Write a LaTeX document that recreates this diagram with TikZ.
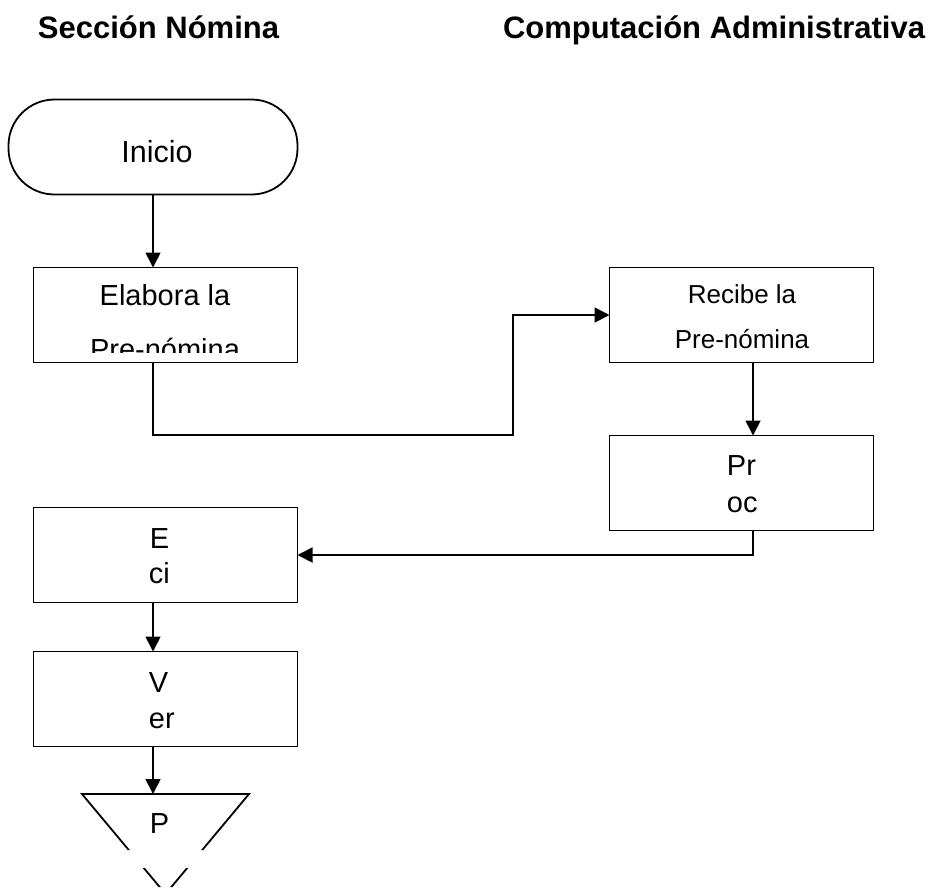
\documentclass[tikz,border=0pt]{standalone}
\usepackage{fontspec}
\setmainfont{Liberation Sans}
\usetikzlibrary{arrows.meta}
\begin{document}
\begin{tikzpicture}[x=1pt,y=-1pt,
  line width=1.8pt,
  procbox/.style={draw, rectangle, minimum width=264pt, minimum height=95pt, inner sep=0pt, outer sep=0pt},
  termbox/.style={draw, rectangle, rounded corners=46pt, minimum width=289pt, minimum height=95pt, inner sep=0pt, outer sep=0pt},
  flow/.style={-{Triangle[length=15pt,width=15pt]}},
  headtxt/.style={font=\fontsize{31}{37}\selectfont\bfseries, inner sep=0pt},
  txt/.style={font=\fontsize{29}{35}\selectfont, inner sep=0pt},
  txtsmall/.style={font=\fontsize{26}{31}\selectfont, inner sep=0pt}]
\useasboundingbox (0,0) rectangle (928,887);

% column headings
\node[headtxt, anchor=base west] (hdrA) at (37,38) {Sección Nómina};
\node[headtxt, anchor=base east] (hdrB) at (926,38) {Computación Administrativa};

% shapes
\node[termbox] (inicio) at (153,147) {};
\node[procbox] (elabora) at (165.5,315) {};
\node[procbox] (recibe) at (741.5,315) {};
\node[procbox] (proc) at (741.5,483) {};
\node[procbox] (emite) at (165.5,555) {};
\node[procbox] (verifica) at (165.5,699) {};

% texts
\node[txt, font=\fontsize{30.5}{36}\selectfont, anchor=base] (inicioT) at (157,162) {Inicio};
\node[txt, anchor=base] (elaboraA) at (165,305) {Elabora la};
\begin{scope}
  \clip (35,270) rectangle (296,352);
  \node[txt, anchor=base] (elaboraB) at (165,359) {Pre-nómina};
\end{scope}
\node[txtsmall, anchor=base] (recibeA) at (742,303) {Recibe la};
\node[txtsmall, anchor=base] (recibeB) at (742,348) {Pre-nómina};
\node[txt, anchor=base west] (procA) at (726,475) {Pr};
\node[txt, anchor=base west] (procB) at (726,512) {oc};
\node[txt, anchor=base west] (emiteA) at (149,548) {E};
\node[txt, anchor=base west] (emiteB) at (148,583) {ci};
\node[txt, anchor=base west] (verA) at (148,692) {V};
\node[txt, anchor=base west] (verB) at (148,728) {er};
\node[txt, anchor=base west] (mergeT) at (149,833) {P};

% connectors
\coordinate (jog) at (513,435);
\coordinate (mtop) at (165.5,794);
\draw[flow] (inicio.south) -- (inicio.south |- elabora.north);
\draw[flow] (inicio.south |- elabora.south) |- (jog) |- (recibe.west);
\draw[flow] ([xshift=11.5pt]recibe.south) -- ([xshift=11.5pt]proc.north);
\draw[flow] ([xshift=11.5pt]proc.south) |- (emite.east);
\draw[flow] (inicio.south |- emite.south) -- (inicio.south |- verifica.north);
\draw[flow] (inicio.south |- verifica.south) -- (inicio.south |- mtop);

% inverted triangle, broken across the gap
\begin{scope}
  \clip (0,0) rectangle (928,850) (0,868) rectangle (928,887);
  \draw (82,794) -- (249,794) -- (165.5,894) -- cycle;
\end{scope}
\end{tikzpicture}
\end{document}
